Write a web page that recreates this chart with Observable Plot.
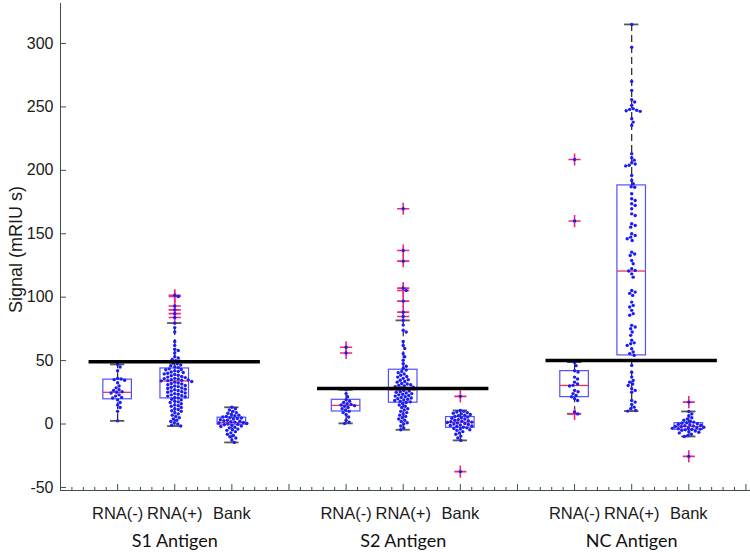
<!DOCTYPE html>
<html><head><meta charset="utf-8">
<script src="https://cdn.jsdelivr.net/npm/d3@7"></script>
<script src="https://cdn.jsdelivr.net/npm/@observablehq/plot@0.6"></script>
<style>body{margin:0;background:#fff} #chart svg{display:block;overflow:visible}</style>
</head><body><div id="chart"></div>
<script>
// ---- categories ----
const groups = ["S1 Antigen", "S2 Antigen", "NC Antigen"];
const samples = ["RNA(-)", "RNA(+)", "Bank"];
const thresholds = [49, 28, 50];
const yTicks = [-50, 0, 50, 100, 150, 200, 250, 300];
const yLabel = "Signal (mRIU s)";

// ---- box summary (order: S1 -,+,Bank, S2 -,+,Bank, NC -,+,Bank) ----
const q1 =          [19.5, 20.2, -0.5,  9.9, 16.8, -2.9, 21.2,  54.1, -4.5];
const median =      [25.0, 34.0,  1.2, 14.7, 27.0,  1.5, 30.4, 120.6, -1.9];
const q3 =          [35.0, 43.8,  5.0, 19.1, 42.8,  5.5, 41.7, 188.1,  0.7];
const whiskerLow =  [ 2.5, -1.6, -14.5, 0.5, -4.5, -12.9, 8.1, 10.2, -9.8];
const whiskerHigh = [47.0, 79.6, 13.2, 27.0, 81.7, 10.7, 48.8, 315.0,  9.9];

// ---- individual measurements ----
const s1Neg = [47, 45, 42, 36, 35.5, 35, 34.5, 32.5, 30, 28.5, 27, 26.5, 25.5, 25, 24.5, 23, 22, 21, 20.5, 19, 17, 15, 13, 10, 2.5];
const s1Pos = [101.5, 100.5, 93, 90, 87, 84,
  79.5, 76, 72.5, 65, 62, 59, 58, 56, 53, 52, 51, 50, 49.5, 49, 48, 47.5, 46.5, 46, 45, 44.5,
  43.5, 43, 42.8, 42, 41.5, 41, 40.6, 40, 39.5, 39, 38.4, 38, 37.5, 37, 36.6, 36, 35.8, 35.5, 35, 34.8, 34.5, 34.2, 34,
  33.5, 33, 32.4, 32, 31.5, 31, 30.4, 30, 29.5, 29, 28.4, 28, 27.5, 27, 26.4, 26, 25.5, 25, 24.4, 24, 23.5, 23, 22.4, 22, 21.5, 21, 20.5,
  19.5, 19, 18, 17.5, 17, 16, 15, 14.5, 14, 13, 12, 11.5, 10.5, 10, 9, 8, 7, 6, 5, 4, 3, 2, 1, 0, -1, -1.6];
const s1Bank = [13.2, 12, 11, 10, 9, 8.5, 7.5, 7, 6.5, 6, 5.5, 5, 4.8, 4.3, 4, 3.4, 3, 2.6, 2.2, 1.8, 1.5, 1.2, 0.8, 0.4, 0,
  -0.3, -0.6, -1, -1.5, -2, -2.5, -3, -4, -4.5, -5, -6, -7, -8, -9, -10, -11, -12.5, -14.5];
const s2Neg = [60.5, 56, 27, 24, 21.5, 19, 18, 17, 16, 15.5, 15, 14.5, 14, 13, 12, 11, 10, 9, 7.5, 5.5, 3, 1.5, 0.5];
const s2Pos = [169.7, 136.8, 128.4, 107.1, 105.3, 96.9, 88.2, 84.8,
  81.7, 78, 74, 72.5, 65, 62, 59.5, 55.5, 53, 50.3, 47.5, 45.6, 44,
  42.5, 41.5, 40.5, 39.5, 38.5, 37.5, 37, 36, 35, 34.5, 33.5, 33, 32, 31.5, 31, 30.5, 30, 29.5, 29, 28.5, 28, 27.5,
  26.5, 26, 25.5, 25, 24.5, 24, 23.5, 23, 22.5, 22, 21.5, 21, 20.5, 20, 19.5, 19, 18.5, 18, 17.5, 17,
  16, 15, 14, 13, 12, 11, 10, 9, 8, 7, 6, 5, 4, 3, 2, 1, 0, -1.5, -3, -4.5];
const s2Bank = [21.8, 10.7, 10, 9.5, 9, 8.5, 8, 7.5, 7, 6.5, 6, 5.5, 5, 4.5, 4, 3.5, 3, 2.6, 2.2, 1.8, 1.5, 1.2, 0.8, 0.4, 0,
  -0.4, -0.8, -1.2, -1.6, -2, -2.5, -3, -3.5, -4, -4.5, -5, -6, -7, -8, -9.5, -11, -12.9, -37.5];
const ncNeg = [208.5, 160, 48.5, 46, 42, 41, 37, 35.5, 33, 31.5, 30.5, 30, 26.5, 25.5, 24, 22.5, 21.5, 20, 18.5, 9.5, 8];
const ncPos = [315, 297, 270, 263, 255.6, 253.8, 251.2, 248.6, 248, 247.3, 247, 246.5, 240.6, 238, 235.3,
  213, 210, 208, 206, 205, 204, 203.5, 195.9, 192, 189.4,
  187, 186.7, 181.5, 177.6, 176.2, 173.6, 172.3, 169.7, 165.7, 164.4, 157.9, 156.5, 155.2, 150, 148.6, 147.3, 146, 144.7,
  135.5, 134, 132.9, 128.9, 126.3, 122.4, 121.1, 120.6, 118.4, 115.8, 105.3, 104, 103, 101.4, 96.1, 93.5, 92.2, 89.6, 87, 85.7,
  77.8, 76.5, 75.1, 72.5, 69.9, 66, 64, 63.3, 62, 59.4, 56.8, 55.5, 54.1,
  50.1, 46.2, 40.9, 37, 34.4, 33, 31.5, 30.4, 27.8, 26.5, 25, 18.6, 17.3, 15.4, 13.3, 12, 10.7, 10.2];
const ncBank = [17.3, 9.9, 8, 6.5, 5, 4, 3, 2.2, 1.5, 1, 0.6, 0.2, -0.2, -0.6, -1, -1.3, -1.6, -1.9, -2.2, -2.5, -2.8,
  -3.1, -3.4, -3.7, -4, -4.3, -4.6, -5, -5.5, -6, -6.5, -7, -8, -9, -9.8, -25.5];

const measurements = [s1Neg, s1Pos, s1Bank, s2Neg, s2Pos, s2Bank, ncNeg, ncPos, ncBank];

// ---- layout ----
const W = 750, H = 552;
const mL = 60, mR = 0, mT = 3, mB = 62;
const xDomain = [0, 12.08];
const yDomain = [-52.4, 331.5];
const xPx = d3.scaleLinear(xDomain, [mL, W - mR]);
const yPx = d3.scaleLinear(yDomain, [H - mB, mT]);
const unitX = xPx(1) - xPx(0);
const unitY = yPx(0) - yPx(1);

const cats = [];
groups.forEach((g, gi) => samples.forEach((s, si) => cats.push({group: g, sample: s, pos: 1 + 4 * gi + si})));
const boxes = cats.map((c, i) => ({...c, q1: q1[i], median: median[i], q3: q3[i], lo: whiskerLow[i], hi: whiskerHigh[i]}));

// beeswarm placement (deterministic, collision based)
function swarm(vals, pos) {
  const D = 3.5;
  const pts = vals.map(v => ({v, py: yPx(v)})).sort((a, b) => a.py - b.py);
  const placed = [];
  for (const p of pts) {
    const near = placed.filter(q => Math.abs(q.py - p.py) < D);
    let off = 0;
    for (let k = 0; k < 400; k++) {
      const c = (k % 2 ? 1 : -1) * Math.ceil(k / 2) * 0.5;
      if (near.every(q => (c - q.dx) ** 2 + (p.py - q.py) ** 2 >= D * D)) { off = c; break; }
    }
    p.dx = off; placed.push(p);
  }
  return pts.map(p => ({value: p.v, x: pos + p.dx / unitX}));
}
const points = measurements.flatMap((vals, i) => swarm(vals, cats[i].pos));
const outliers = measurements.flatMap((vals, i) =>
  vals.filter(v => v < whiskerLow[i] - 1e-9 || v > whiskerHigh[i] + 1e-9).map(v => ({value: v, x: cats[i].pos})));

const thr = groups.map((g, gi) => ({group: g, value: thresholds[gi], x1: 4 * gi + 0.5, x2: 4 * gi + 3.5, center: 4 * gi + 2}));

const xMajor = d3.range(0, 13);
const xMinor = d3.range(0, 61).map(i => i / 5).filter(v => Math.abs(v - Math.round(v)) > 1e-6 && v <= xDomain[1]);

const sans = "'Liberation Sans', Arial, Helvetica, sans-serif";
const axisColor = "#3e4d4d";
const textColor = "#1a1a1a";
const boxBlue = "#5050ff";
const dotBlue = "#1c1cf5";
const medRed = "#ef3050";
const outlierPink = "#f0267c";

const chart = Plot.plot({
  width: W, height: H,
  marginLeft: mL, marginRight: mR, marginTop: mT, marginBottom: mB,
  style: {background: "#fff"},
  x: {domain: xDomain, axis: null},
  y: {domain: yDomain, axis: null},
  marks: [
    Plot.ruleX([xDomain[0]], {y1: yDomain[0], y2: yDomain[1], stroke: axisColor, strokeWidth: 1}),
    Plot.ruleY([yDomain[0]], {x1: xDomain[0], x2: xDomain[1], stroke: axisColor, strokeWidth: 1}),
    Plot.ruleY(yTicks, {x1: xDomain[0], x2: xDomain[0] + 6 / unitX, stroke: axisColor}),
    Plot.text(yTicks, {x: xDomain[0], y: d => d, dx: -7, textAnchor: "end", text: d => String(d),
      fontSize: 16, fontFamily: sans, fill: textColor}),
    Plot.ruleX(xMajor, {y1: yDomain[0], y2: yDomain[0] + 6 / unitY, stroke: axisColor}),
    Plot.ruleX(xMinor, {y1: yDomain[0], y2: yDomain[0] + 3 / unitY, stroke: axisColor}),
    Plot.text(cats, {x: "pos", y: () => yDomain[0], text: "sample", dy: 23, fontSize: 16.5,
      fontFamily: sans, fill: textColor}),
    Plot.text(thr, {x: "center", y: () => yDomain[0], text: "group", dy: 51, fontSize: 18,
      fontFamily: "Lato, 'Open Sans', sans-serif", fill: "#111"}),
    Plot.text([yLabel], {frameAnchor: "left", textAnchor: "middle", rotate: -90, dx: -44, dy: 2.5, fontSize: 18,
      fontFamily: sans, fill: textColor}),
    Plot.rect(boxes, {x1: d => d.pos - 0.25, x2: d => d.pos + 0.25, y1: "q1", y2: "q3", fill: "none", stroke: boxBlue, strokeWidth: 1.2}),
    Plot.ruleX(boxes, {x: "pos", y1: "q3", y2: "hi", stroke: "#222", strokeWidth: 1.2, strokeDasharray: "7,4"}),
    Plot.ruleX(boxes, {x: "pos", y1: "lo", y2: "q1", stroke: "#222", strokeWidth: 1.2, strokeDasharray: "7,4"}),
    Plot.ruleY(boxes, {y: "hi", x1: d => d.pos - 0.125, x2: d => d.pos + 0.125, stroke: "#505a5a", strokeWidth: 1.8}),
    Plot.ruleY(boxes, {y: "lo", x1: d => d.pos - 0.125, x2: d => d.pos + 0.125, stroke: "#505a5a", strokeWidth: 1.8}),
    Plot.ruleY(boxes, {y: "median", x1: d => d.pos - 0.25, x2: d => d.pos + 0.25, stroke: medRed, strokeWidth: 1.3}),
    Plot.dot(outliers, {x: "x", y: "value", symbol: "plus", r: 4, stroke: outlierPink, strokeWidth: 1.6}),
    Plot.dot(points, {x: "x", y: "value", r: 1.7, fill: dotBlue, stroke: "none"}),
    Plot.ruleY(thr, {y: "value", x1: "x1", x2: "x2", stroke: "#000", strokeWidth: 3.5})
  ]
});
document.getElementById("chart").append(chart);
</script></body></html>
